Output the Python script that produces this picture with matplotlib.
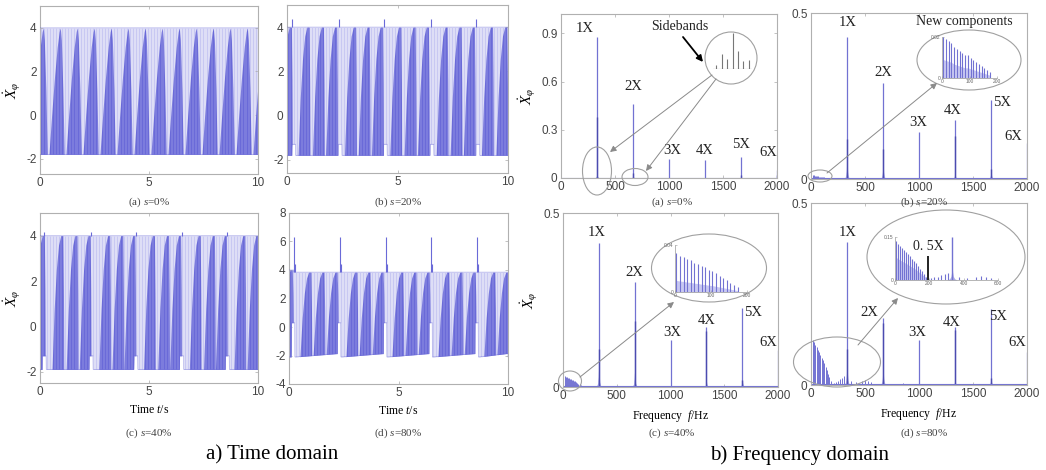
import numpy as np
import matplotlib
matplotlib.use('Agg')
import matplotlib.pyplot as plt
from matplotlib.patches import Ellipse

plt.rcParams['mathtext.fontset'] = 'custom'
plt.rcParams['mathtext.rm'] = 'Liberation Serif'
plt.rcParams['mathtext.it'] = 'Liberation Serif:italic'
plt.rcParams['font.family'] = ['Liberation Sans', 'DejaVu Sans']
plt.rcParams['axes.unicode_minus'] = False

# ---------------- data ----------------
time_xticks = [0, 5, 10]
# time domain (a) s=0%
ta_low, ta_high = -1.8, 4.0
ta_peaks = [0.15, 0.93, 1.71, 2.49, 3.27, 4.05, 4.83, 5.61, 6.39, 7.17, 7.95, 8.73, 9.51, 10.29]
# time domain (b) s=20%
tb_low, tb_high, tb_notch, tb_spike = -1.8, 4.0, -1.3, 4.35
tb_events = [0.24, 2.34, 4.39, 6.50, 8.57]
tb_peaks = [0.10, 0.90, 1.55, 2.15, 3.00, 3.62, 4.22, 5.05, 5.70, 6.30, 7.15, 7.78, 8.38, 9.20, 9.85]
# time domain (c) s=40%
tc_low, tc_high, tc_notch, tc_spike = -1.9, 4.0, -1.3, 4.15
tc_events = [0.20, 2.35, 4.40, 6.50, 8.60]
tc_peaks = [0.10, 0.95, 1.60, 2.20, 3.10, 3.70, 4.25, 5.15, 5.80, 6.35, 7.25, 7.90, 8.45, 9.30, 9.90]
# time domain (d) s=80%
td_low_start, td_low_end, td_high, td_notch = -2.1, -1.85, 3.85, 0.3
td_spike_big, td_spike_small = 6.3, 4.4
td_events = [0.21, 2.31, 4.41, 6.49, 8.59]
td_peaks = [0.05, 0.90, 1.50, 2.10, 3.00, 3.60, 4.20, 5.10, 5.70, 6.30, 7.20, 7.80, 8.40, 9.30, 9.90]
# hump outlines (time offset from peak, fraction of band height)
hump1_dt = [-0.52, -0.40, -0.27, -0.14, -0.05, 0.0, 0.05, 0.12, 0.18]
hump1_fr = [0.0, 0.30, 0.60, 0.85, 0.97, 1.0, 0.90, 0.50, 0.0]
hump2_dt = [-0.40, -0.30, -0.20, -0.10, 0.0, 0.10, 0.13, 0.14]
hump2_fr = [0.0, 0.45, 0.75, 0.93, 1.0, 1.0, 0.50, 0.0]

# frequency domain
freq_xticks = [0, 500, 1000, 1500, 2000]
harm_f = [333, 667, 1000, 1333, 1667, 2000]
harm_lbl = ['1X', '2X', '3X', '4X', '5X', '6X']
fa_amp = [0.875, 0.46, 0.12, 0.11, 0.13, 0.05]
fa_dark = [0.38, 0.03, 0.0, 0.0, 0.02, 0.02]
fa_skirt = [0.02, 0.01, 0.0, 0.0, 0.005, 0.0]
fb_amp = [0.428, 0.289, 0.142, 0.178, 0.238, 0.108]
fb_dark = [0.12, 0.09, 0.0, 0.13, 0.03, 0.0]
fb_skirt = [0.05, 0.04, 0.003, 0.015, 0.02, 0.005]
fc_amp = [0.414, 0.302, 0.135, 0.172, 0.227, 0.106]
fc_dark = [0.11, 0.19, 0.0, 0.16, 0.02, 0.0]
fc_skirt = [0.05, 0.04, 0.003, 0.015, 0.02, 0.005]
fd_amp = [0.393, 0.184, 0.124, 0.160, 0.210, 0.090]
fd_dark = [0.10, 0.17, 0.0, 0.15, 0.02, 0.0]
fd_skirt = [0.05, 0.04, 0.005, 0.01, 0.015, 0.005]
skirt_df = [-30, -15, -7, -3, 0, 3, 7, 15, 30]
skirt_fr = [0, 0.08, 0.25, 0.55, 1, 0.55, 0.25, 0.08, 0]

# low-frequency ("new") components
fb_low_f = [4, 14, 24, 34, 44, 54, 64, 74, 84, 94, 104, 114, 124, 134, 144, 154, 164, 174]
fb_low_a = [0.020, 0.019, 0.018, 0.017, 0.015, 0.014, 0.013, 0.012, 0.011, 0.011, 0.010,
            0.009, 0.008, 0.007, 0.006, 0.005, 0.004, 0.003]
fc_low_f = [4, 14, 24, 34, 44, 54, 64, 74, 84, 94, 104, 114, 124, 134, 144, 154, 164, 174]
fc_low_a = [0.033, 0.031, 0.030, 0.028, 0.027, 0.025, 0.024, 0.022, 0.021, 0.019, 0.018,
            0.016, 0.014, 0.012, 0.010, 0.008, 0.006, 0.004]
fd_low_f = [3, 15, 27, 39, 51, 63, 75, 87, 99, 111, 123, 135, 147, 159, 171, 183,
            210, 230, 250, 270, 290, 310, 370, 420, 470, 500, 530, 560, 850]
fd_low_a = [0.135, 0.125, 0.118, 0.110, 0.104, 0.097, 0.090, 0.082, 0.075, 0.068, 0.060,
            0.050, 0.040, 0.030, 0.022, 0.012,
            0.006, 0.009, 0.012, 0.016, 0.020, 0.026, 0.010, 0.008, 0.012, 0.014, 0.012, 0.008, 0.005]
fd_half_f, fd_half_a = 190, 0.085
# sidebands around 1X (relative order, relative height)
sb_order = [-3, -2, -1, 0, 1, 2, 3]
sb_height = [0.12, 0.41, 0.28, 1.0, 0.51, 0.22, 0.24]

# ---------------- figure ----------------
W, H = 1046, 470
fig = plt.figure(figsize=(W / 100, H / 100), dpi=100)

LIGHT = '#c8c8f2'
DARK = '#6a6ad8'
SPEC = '#7272d2'
SPEC_D = '#4c4cb0'
TXT = '#444444'


def px_axes(l, t, r, b):
    return fig.add_axes([l / W, 1 - b / H, (r - l) / W, (b - t) / H])


def style(ax, xt, yt, ytl=None, fs=8.5):
    ax.set_xticks(xt)
    ax.set_yticks(yt)
    if ytl is not None:
        ax.set_yticklabels(ytl)
    ax.tick_params(direction='in', length=2.5, width=0.5, colors='#aaaaaa',
                   labelcolor=TXT, labelsize=fs, top=True, right=True, pad=2.5)
    for s in ax.spines.values():
        s.set_color('#b0b0b0')
        s.set_linewidth(0.8)


def draw_time(ax, lo, hi, peaks, hdt, hfr, t):
    ax.fill_between(t, lo, hi, color=LIGHT, lw=0, zorder=1)
    tex = np.arange(0.02, 10, 0.068)
    ax.vlines(tex, np.interp(tex, t, lo), np.interp(tex, t, hi), color='white',
              lw=0.5, alpha=0.75, zorder=1.5)
    hdt = np.array(hdt)
    for p in peaks:
        xs = np.linspace(p + hdt[0], p + hdt[-1], 80)
        fr = np.interp(xs, p + hdt, hfr)
        lx = np.interp(xs, t, lo)
        hx = np.interp(xs, t, hi)
        ax.fill_between(xs, lx, lx + fr * (hx - lx), color=DARK, lw=0, zorder=2)
    ax.vlines(tex, np.interp(tex, t, lo), np.interp(tex, t, hi), color=LIGHT,
              lw=0.4, alpha=0.35, zorder=3)
    ax.plot(t, hi, color=DARK, lw=0.5, alpha=0.5, zorder=3)
    ax.plot(t, lo, color=DARK, lw=0.5, alpha=0.5, zorder=3)
    ax.set_xlim(0, 10)


t = np.linspace(0, 10, 4001)
YL = r'$\dot{X}_{\varphi}$'

# (a)
ax = px_axes(40, 6, 258, 174)
lo = np.full_like(t, ta_low); hi = np.full_like(t, ta_high)
draw_time(ax, lo, hi, ta_peaks, hump1_dt, hump1_fr, t)
ax.set_ylim(-2.7, 5.0)
style(ax, time_xticks, [-2, 0, 2, 4])
ax.set_ylabel(YL, fontsize=11, labelpad=2)

# (b)
ax = px_axes(287, 5, 508, 173)
lo = np.full_like(t, tb_low); hi = np.full_like(t, tb_high)
for E in tb_events:
    lo[(t >= E - 0.02) & (t <= E + 0.14)] = tb_notch
draw_time(ax, lo, hi, tb_peaks, hump2_dt, hump2_fr, t)
ax.vlines(tb_events, tb_high, tb_spike, color=DARK, lw=0.8, zorder=4)
ax.set_ylim(-2.6, 5.0)
style(ax, time_xticks, [-2, 0, 2, 4])

# (c)
ax = px_axes(40, 213, 258, 383)
lo = np.full_like(t, tc_low); hi = np.full_like(t, tc_high)
for E in tc_events:
    lo[(t >= E - 0.10) & (t <= E + 0.08)] = tc_notch
draw_time(ax, lo, hi, tc_peaks, hump2_dt, hump2_fr, t)
ax.vlines(tc_events, tc_high, tc_spike, color=DARK, lw=0.8, zorder=4)
ax.set_ylim(-2.5, 5.0)
style(ax, time_xticks, [-2, 0, 2, 4])
ax.set_ylabel(YL, fontsize=11, labelpad=2)
ax.set_xlabel(r'Time $t$/s', fontsize=8.5, family='Liberation Serif', labelpad=4)

# (d)
ax = px_axes(289, 213, 508, 384)
ev = [0.0] + td_events + [10.0]
lo = np.full_like(t, td_low_start)
for a, b in zip(ev[:-1], ev[1:]):
    m = (t >= a) & (t < b)
    lo[m] = np.interp(t[m], [a + 0.1, b], [td_low_start, td_low_end])
hi = np.full_like(t, td_high)
hi[t < td_events[0]] = 4.0
for E in td_events:
    lo[(t >= E - 0.10) & (t <= E + 0.05)] = td_notch
draw_time(ax, lo, hi, td_peaks, hump2_dt, hump2_fr, t)
ax.vlines(td_events, td_high, td_spike_big, color=DARK, lw=0.8, zorder=4)
ax.vlines(np.array(td_events) + 0.06, td_high, td_spike_small, color=DARK, lw=0.8, zorder=4)
ax.set_ylim(-4, 8)
style(ax, time_xticks, [-4, -2, 0, 2, 4, 6, 8])
ax.set_xlabel(r'Time $t$/s', fontsize=8.5, family='Liberation Serif', labelpad=4)


def draw_spec(ax, amp, dark, skirt, low_f=None, low_a=None):
    for f, s in zip(harm_f, skirt):
        if s > 0:
            ax.fill_between(f + np.array(skirt_df), 0, s * np.array(skirt_fr),
                            color=SPEC, alpha=0.6, lw=0.4)
    ax.vlines(harm_f, 0, amp, color=SPEC, lw=0.9)
    ax.vlines(harm_f, 0, dark, color=SPEC_D, lw=1.0)
    if low_f is not None:
        ax.vlines(low_f, 0, low_a, color=SPEC, lw=0.7)
    ax.axhline(0.002, color=SPEC, lw=0.8)
    ax.set_xlim(0, 2000)


ax = px_axes(561, 14, 777, 178)
draw_spec(ax, fa_amp, fa_dark, fa_skirt)
ax.set_ylim(0, 1.02)
style(ax, freq_xticks, [0, 0.3, 0.6, 0.9], ['0', '0.3', '0.6', '0.9'])
ax.set_ylabel(YL, fontsize=11, labelpad=2)

ax = px_axes(811, 13, 1027, 179)
draw_spec(ax, fb_amp, fb_dark, fb_skirt, fb_low_f, np.array(fb_low_a) * 0.6)
ax.set_ylim(0, 0.5)
style(ax, freq_xticks, [0, 0.5], ['0', '0.5'])

ax = px_axes(563, 213, 778, 387)
draw_spec(ax, fc_amp, fc_dark, fc_skirt, fc_low_f, fc_low_a)
ax.set_ylim(0, 0.5)
style(ax, freq_xticks, [0, 0.5], ['0', '0.5'])
ax.set_ylabel(YL, fontsize=11, labelpad=2)
ax.set_xlabel(r'Frequency  $f$/Hz', fontsize=8.5, family='Liberation Serif', labelpad=4)

ax = px_axes(811, 203, 1027, 385)
draw_spec(ax, fd_amp, fd_dark, fd_skirt, fd_low_f, fd_low_a)
ax.set_ylim(0, 0.5)
style(ax, freq_xticks, [0, 0.5], ['0', '0.5'])
ax.set_xlabel(r'Frequency  $f$/Hz', fontsize=8.5, family='Liberation Serif', labelpad=4)

# ---------------- overlay (pixel coordinates) ----------------
ov = fig.add_axes([0, 0, 1, 1])
ov.set_xlim(0, W)
ov.set_ylim(H, 0)
ov.axis('off')

SER = 'Liberation Serif'
caps = [(149, 202, '(a) $s$=0%'), (398, 202, '(b) $s$=20%'),
        (149, 433, '(c) $s$=40%'), (398, 433, '(d) $s$=80%'),
        (672, 202, '(a) $s$=0%'), (924, 202, '(b) $s$=20%'),
        (672, 433, '(c) $s$=40%'), (924, 433, '(d) $s$=80%')]
for x, y, s in caps:
    ov.text(x, y, s, ha='center', va='center', fontsize=8, family=SER, color=TXT)
ov.text(272, 455, 'a) Time domain', ha='center', va='center', fontsize=15, family=SER)
ov.text(800, 455, 'b) Frequency domain', ha='center', va='center', fontsize=15, family=SER)

lbl_pos = {
    'a': [(585, 28), (633, 87), (672, 150), (705, 150), (741, 144), (768, 152)],
    'b': [(848, 23), (883, 72), (918, 122), (953, 111), (1002, 103), (1013, 136)],
    'c': [(597, 233), (634, 273), (672, 332), (707, 320), (753, 312), (768, 342)],
    'd': [(848, 232), (869, 312), (917, 333), (952, 322), (998, 317), (1017, 342)],
}
for k, pos in lbl_pos.items():
    for (x, y), s in zip(pos, harm_lbl):
        ov.text(x, y, s, ha='center', va='center', fontsize=10.5, family=SER, color='#222')

ov.text(680, 26, 'Sidebands', ha='center', va='center', fontsize=10, family=SER, color='#222')
ov.text(964, 22, 'New components', ha='center', va='center', fontsize=10, family=SER, color='#222')
ov.text(928, 247, '0. 5X', ha='center', va='center', fontsize=10, family=SER, color='#222')

EC = '#a0a0a0'
ov.add_patch(Ellipse((731, 58), 52, 52, fc='white', ec=EC, lw=0.8))
ov.add_patch(Ellipse((597, 171), 29, 48, fc='none', ec=EC, lw=0.8))
ov.add_patch(Ellipse((635, 177), 26, 17, fc='none', ec=EC, lw=0.8))
ov.add_patch(Ellipse((969, 60), 104, 60, fc='white', ec=EC, lw=0.8))
ov.add_patch(Ellipse((820, 176), 24, 12, fc='none', ec=EC, lw=0.8))
ov.add_patch(Ellipse((709, 268), 115, 68, fc='white', ec=EC, lw=0.8))
ov.add_patch(Ellipse((570, 381), 23, 20, fc='none', ec=EC, lw=0.8))
ov.add_patch(Ellipse((946, 257), 158, 94, fc='white', ec=EC, lw=0.8))
ov.add_patch(Ellipse((837, 362), 87, 50, fc='none', ec=EC, lw=0.8))


def arrow(x0, y0, x1, y1, color='#8a8a8a', lw=0.7):
    ov.annotate('', xy=(x1, y1), xytext=(x0, y0),
                arrowprops=dict(arrowstyle='-|>', color=color, lw=lw,
                                mutation_scale=9, shrinkA=0, shrinkB=0))


arrow(683, 37, 703, 62, color='black', lw=1.3)
arrow(712, 75, 610, 152)
arrow(716, 79, 646, 171)
arrow(827, 173, 937, 83)
arrow(580, 377, 674, 302)
arrow(858, 345, 898, 298)


# ---------------- insets ----------------
def inset_style(ax, xt, xtl, yt, ytl):
    ax.set_xticks(xt)
    ax.set_xticklabels(xtl)
    ax.set_yticks(yt)
    ax.set_yticklabels(ytl)
    ax.tick_params(direction='in', length=1.5, width=0.4, colors='#999999',
                   labelcolor='#666666', labelsize=3.5, pad=1)
    for s in ['top', 'right']:
        ax.spines[s].set_visible(False)
    for s in ['left', 'bottom']:
        ax.spines[s].set_color('#999999')
        ax.spines[s].set_linewidth(0.5)
    ax.patch.set_alpha(0)


ax = px_axes(713, 33, 752, 69)
ax.vlines(sb_order, 0, sb_height, color='#777777', lw=0.8)
ax.axhline(0, color='#777777', lw=0.8)
ax.set_xlim(-3.6, 3.6)
ax.set_ylim(0, 1.0)
ax.axis('off')

ax = px_axes(942, 37, 997, 78)
ax.vlines(fb_low_f, 0, fb_low_a, color=SPEC, lw=0.8)
ax.fill_between(fb_low_f, 0, np.array(fb_low_a) * 0.45, color=LIGHT, lw=0)
ax.set_xlim(0, 200); ax.set_ylim(0, 0.02)
inset_style(ax, [0, 100, 200], ['0', '100', '200'], [0, 0.02], ['0', '0.02'])

ax = px_axes(675, 245, 747, 292)
ax.vlines(fc_low_f, 0, fc_low_a, color=SPEC, lw=0.8)
ax.fill_between(fc_low_f, 0, np.array(fc_low_a) * 0.3, color=LIGHT, lw=0)
ax.set_xlim(0, 200); ax.set_ylim(0, 0.04)
inset_style(ax, [0, 100, 200], ['0', '100', '200'], [0, 0.04], ['0', '0.04'])

ax = px_axes(895, 237, 998, 280)
ax.fill_between(fd_low_f[:16], 0, np.array(fd_low_a[:16]) * 0.6, color=LIGHT, lw=0)
ax.vlines(fd_low_f, 0, fd_low_a, color=SPEC, lw=0.8)
ax.vlines(harm_f[:1], 0, 0.15, color=SPEC, lw=1.0)
ax.fill_between(harm_f[0] + np.array(skirt_df), 0, 0.05 * np.array(skirt_fr), color=SPEC, alpha=0.6, lw=0)
ax.vlines([fd_half_f], 0, fd_half_a, color='#222222', lw=1.4)
ax.set_xlim(0, 600); ax.set_ylim(0, 0.15)
inset_style(ax, [0, 200, 400, 600], ['0', '200', '400', '600'], [0, 0.15], ['0', '0.15'])

fig.savefig('out.png', dpi=100)
